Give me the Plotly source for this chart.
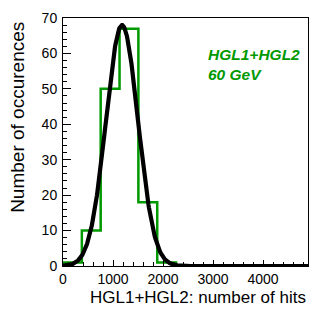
import numpy as np
import plotly.graph_objects as go

# Histogram data
x_min, x_max, n_bins = 0, 4900, 13
counts = [1, 10, 50, 67, 18, 1, 0, 0, 0, 0, 0, 0, 0]

# Gaussian fit parameters
fit_amp = 68.0
fit_mean = 1180.0
fit_sigma = 320.0

x_ticks = [0, 1000, 2000, 3000, 4000]
y_ticks = [0, 10, 20, 30, 40, 50, 60, 70]

edges = np.linspace(x_min, x_max, n_bins + 1)
hx = [edges[0]] + list(edges)
hy = [0] + list(counts) + [counts[-1]]

xf = np.linspace(x_min, x_max, 600)
yf = fit_amp * np.exp(-0.5 * ((xf - fit_mean) / fit_sigma) ** 2)

GREEN = "#009900"
FONT = "Liberation Sans, Arial, Helvetica, sans-serif"

fig = go.Figure()
fig.add_trace(go.Scatter(x=hx, y=hy, mode="lines", line=dict(shape="hv", color=GREEN, width=2.5),
                         hoverinfo="skip", showlegend=False))
fig.add_trace(go.Scatter(x=xf, y=yf, mode="lines", line=dict(color="black", width=4.2),
                         hoverinfo="skip", showlegend=False))

axis_common = dict(showline=True, linecolor="black", linewidth=1, mirror=True,
                   ticks="inside", tickcolor="black", tickwidth=1,
                   showgrid=False, zeroline=False,
                   tickfont=dict(family=FONT, size=14, color="black"))

fig.update_xaxes(range=[x_min, x_max], tickvals=x_ticks, ticktext=[str(v) for v in x_ticks],
                 ticklen=6,
                 minor=dict(ticks="inside", ticklen=4, dtick=200, tickcolor="black"),
                 ticklabelstandoff=0, **axis_common)
fig.update_yaxes(range=[0, 70], tickvals=y_ticks, ticktext=[str(v) for v in y_ticks],
                 ticklen=8,
                 minor=dict(ticks="inside", ticklen=4, dtick=2, tickcolor="black"),
                 ticklabelstandoff=2, **axis_common)

fig.update_layout(
    width=327, height=314,
    margin=dict(l=63, r=19, t=18, b=48, pad=0, autoexpand=False),
    paper_bgcolor="white", plot_bgcolor="white",
    annotations=[
        dict(text="Number of occurences", xref="paper", yref="paper", x=-0.184, y=0.601,
             xanchor="center", yanchor="middle", textangle=-90, showarrow=False,
             font=dict(family=FONT, size=19, color="black")),
        dict(text="HGL1+HGL2: number of hits", xref="paper", yref="paper", x=1.0, y=-0.127,
             xanchor="right", yanchor="middle", showarrow=False,
             font=dict(family=FONT, size=17, color="black")),
        dict(text="<b><i>HGL1+HGL2</i></b>", xref="paper", yref="paper", x=0.585, y=0.851,
             xanchor="left", yanchor="middle", showarrow=False,
             font=dict(family=FONT, size=15.5, color=GREEN)),
        dict(text="<b><i>60 GeV</i></b>", xref="paper", yref="paper", x=0.585, y=0.774,
             xanchor="left", yanchor="middle", showarrow=False,
             font=dict(family=FONT, size=15.5, color=GREEN)),
    ],
)

fig.write_html("out.html", config={"displayModeBar": False},
               post_script="document.body.style.margin='0';document.body.style.overflow='hidden';")
